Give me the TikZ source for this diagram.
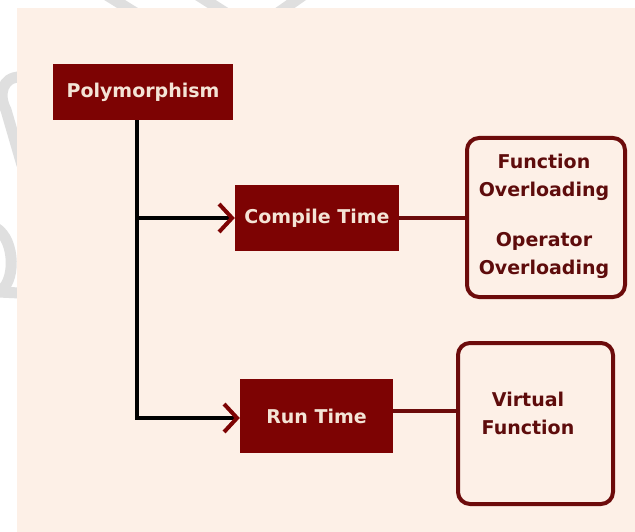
\documentclass[tikz,border=0pt]{standalone}
\usepackage{fontspec}
\setmainfont{DejaVu Sans}
\usetikzlibrary{arrows.meta,calc}

\definecolor{paper}{HTML}{FDF0E7}
\definecolor{boxred}{HTML}{7D0303}
\definecolor{edgered}{HTML}{6C0B0B}
\definecolor{labelcream}{HTML}{F4E4D6}
\definecolor{inkred}{HTML}{5E0C0C}
\definecolor{shade}{HTML}{DFDFDF}

\tikzset{
  x=1pt, y=-1pt,
  solidbox/.style={draw=none, fill=boxred, text=labelcream, inner sep=0pt,
    font=\bfseries\fontsize{19}{22}\selectfont},
  roundbox/.style={draw=edgered, line width=4pt, rounded corners=12pt,
    fill=none, inner sep=0pt},
  boxtext/.style={text=inkred, align=center,
    font=\bfseries\fontsize{19}{28}\selectfont},
  trunk/.style={draw=black, line width=4pt},
  branch/.style={trunk, -{Straight Barb[length=13pt, width=28pt, line width=4pt, color=boxred]}},
  link/.style={draw=edgered, line width=4pt},
  faint/.style={draw=shade, line width=11pt}
}

\begin{document}
\begin{tikzpicture}
\useasboundingbox (0,0) rectangle (635,532);
\fill[white] (0,0) rectangle (635,532);

% pale marks in the white margin
\draw[faint] (105,-6) -- (150,22);
\draw[faint] (196,-6) -- (240,22);
\draw[faint] (305,-6) -- (265,22);
\draw[faint] (20,77) .. controls (2,77) and (-2,95) .. (6,110) -- (22,165);
\draw[faint] (-4,228) .. controls (16,240) and (16,285) .. (-2,292) -- (20,293);

% paper
\fill[paper] (17,8) rectangle (635,532);

% boxes
\node[solidbox, minimum width=180pt, minimum height=56pt] (poly) at (143,92) {Polymorphism};
\node[solidbox, minimum width=164pt, minimum height=66pt] (ct) at (317,218) {Compile Time};
\node[solidbox, minimum width=153pt, minimum height=74pt] (rt) at (316.5,416) {Run Time};

\node[roundbox, minimum width=158pt, minimum height=159pt] (ov) at (546,217.5) {};
\node[boxtext] (ovtext) at (544,216.5) {Function\\Overloading\\[22pt]Operator\\Overloading};

\node[roundbox, minimum width=155pt, minimum height=161pt] (vf) at (535.5,423.5) {};
\node[boxtext] (vftext) at (528,413.5) {Virtual\\Function};

% connectors
\coordinate (bend1) at (poly.south -| 137,0);
\coordinate (j1) at (137,0 |- ct.west);
\coordinate (j2) at (137,418);
\draw[trunk] (bend1) -- ($(j2)+(0,2)$);
\draw[branch] (j1) -- (ct.west);
\draw[branch] (j2) -- (rt.west |- j2);

\draw[link] (ct.east) -- (ov.west |- ct.east);
\draw[link] (rt.east |- 0,411) -- (vf.west |- 0,411);
\end{tikzpicture}
\end{document}
